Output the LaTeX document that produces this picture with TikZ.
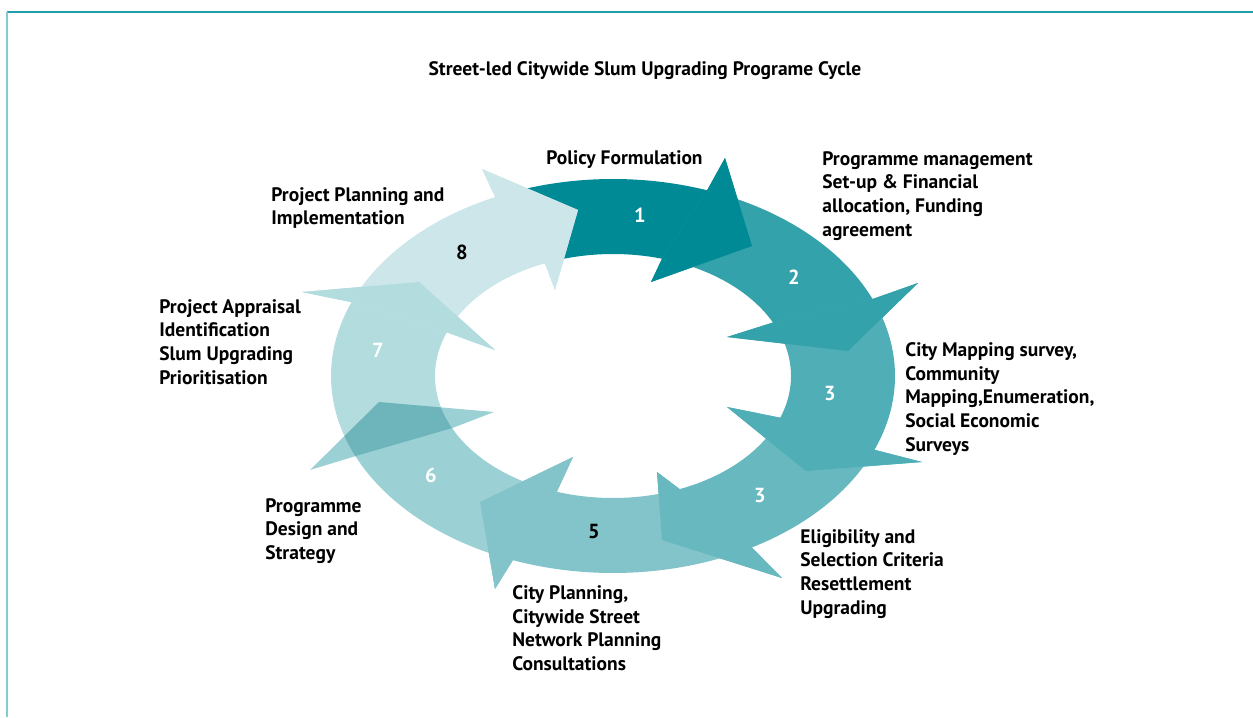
\documentclass[tikz,border=0pt]{standalone}
\usepackage{fontspec}
\setmainfont{PT Sans}
\usepackage{xcolor}
\usetikzlibrary{calc}

\definecolor{cyc1}{HTML}{008A96}
\definecolor{cyc2}{HTML}{34A2AB}
\definecolor{cyc3}{HTML}{4FAEB6}
\definecolor{cyc4}{HTML}{67B8BF}
\definecolor{cyc5}{HTML}{82C4CA}
\definecolor{cyc6}{HTML}{9BD0D5}
\definecolor{cyc7}{HTML}{B3DCDF}
\definecolor{cyc8}{HTML}{CCE6E9}
\definecolor{cycover}{HTML}{6DB4BB}
\definecolor{frametop}{HTML}{22A0AA}
\definecolor{frameleft}{HTML}{7FCCD3}

\begin{document}
\begin{tikzpicture}[
  x=0.02cm, y=-0.02cm,
  outer/.style={x radius=282, y radius=197},
  inner/.style={x radius=178, y radius=122},
  lbl/.style={anchor=north west, align=left, inner sep=0pt, font=\bfseries\fontsize{11.1}{13.5}\selectfont},
  num/.style={inner sep=0pt, text=white, font=\bfseries\fontsize{11.6}{13}\selectfont}
]
  \useasboundingbox (0,0) rectangle (1253,717);
  \draw[frametop, line width=0.7pt] (7,12) -- (1253,12);
  \draw[frameleft, line width=0.8pt] (7,12) -- (7,717);
  \coordinate (c) at (613,376);

  % Arrows
  \fill[cyc1] ($(c)+(-114.7:282 and 197)$) arc[outer, start angle=-114.7, end angle=-70.5] -- (725,158) -- (752,246) -- (651,282) -- ($(c)+(-74:178 and 122)$) arc[inner, start angle=-74, end angle=-112.5] -- cycle;
  \fill[cyc2] ($(c)+(-70.5:282 and 197)$) arc[outer, start angle=-70.5, end angle=-23] -- (918,283) -- (848,351) -- (727,337) -- ($(c)+(-26:178 and 122)$) arc[inner, start angle=-26, end angle=-74] -- cycle;
  \fill[cyc3] ($(c)+(-23:282 and 197)$) arc[outer, start angle=-23, end angle=22] -- (922,462) -- (806,471) -- (727,407) -- ($(c)+(20:178 and 122)$) arc[inner, start angle=20, end angle=-26] -- cycle;
  \fill[cyc4] ($(c)+(22:282 and 197)$) arc[outer, start angle=22, end angle=60.5] -- (782,578) -- (662,540) -- (657,472) -- ($(c)+(68:178 and 122)$) arc[inner, start angle=68, end angle=20] -- cycle;
  \fill[cyc5] ($(c)+(60.5:282 and 197)$) arc[outer, start angle=60.5, end angle=110.8] -- (495,589) -- (480,502) -- (573,457) -- ($(c)+(108.4:178 and 122)$) arc[inner, start angle=108.4, end angle=68] -- cycle;
  \fill[cyc6] ($(c)+(110.8:282 and 197)$) arc[outer, start angle=110.8, end angle=156] -- (310,470) -- (379,402) -- (494,412) -- ($(c)+(154.7:178 and 122)$) arc[inner, start angle=154.7, end angle=108.4] -- cycle;
  \fill[cyc7] ($(c)+(156:282 and 197)$) arc[outer, start angle=156, end angle=202] -- (302,292) -- (419,282) -- (495,350) -- ($(c)+(201:178 and 122)$) arc[inner, start angle=201, end angle=154.7] -- cycle;
  \fill[cyc8] ($(c)+(202:282 and 197)$) arc[outer, start angle=202, end angle=245.3] -- (482,169) -- (578,210) -- (555,290) -- ($(c)+(247.5:178 and 122)$) arc[inner, start angle=247.5, end angle=201] -- cycle;

  % Heads on top of the next band
  \fill[cyc1] ($(c)+(-70.5:282 and 197)$) -- (725,158) -- (752,246) -- (651,282) -- ($(c)+(-74:178 and 122)$) -- cycle;
  \fill[cyc2] ($(c)+(-23:282 and 197)$) -- (918,283) -- (848,351) -- (727,337) -- ($(c)+(-26:178 and 122)$) -- cycle;
  \fill[cyc3] ($(c)+(22:282 and 197)$) -- (922,462) -- (806,471) -- (727,407) -- ($(c)+(20:178 and 122)$) -- cycle;
  \fill[cyc4] ($(c)+(60.5:282 and 197)$) -- (782,578) -- (662,540) -- (657,472) -- ($(c)+(68:178 and 122)$) -- cycle;
  \fill[cyc5] ($(c)+(110.8:282 and 197)$) -- (495,589) -- (480,502) -- (573,457) -- ($(c)+(108.4:178 and 122)$) -- cycle;
  \begin{scope}
    \clip ($(c)+(156:282 and 197)$) -- (310,470) -- (379,402) -- (494,412) -- ($(c)+(154.7:178 and 122)$) -- cycle;
    \fill[cycover, even odd rule] (c) ellipse[outer] (c) ellipse[inner];
  \end{scope}
  \fill[cyc7] ($(c)+(202:282 and 197)$) -- (302,292) -- (419,282) -- (495,350) -- ($(c)+(201:178 and 122)$) -- cycle;
  \fill[cyc8] ($(c)+(245.3:282 and 197)$) -- (482,169) -- (578,210) -- (555,290) -- ($(c)+(247.5:178 and 122)$) -- cycle;

  % Numbers
  \node[num] (num1) at (640,215) {1};
  \node[num] (num2) at (794,277) {2};
  \node[num] (num3) at (830,394) {3};
  \node[num] (num4) at (760,495) {3};
  \node[num, text=black] (num5) at (594,531) {5};
  \node[num] (num6) at (431,475) {6};
  \node[num] (num7) at (378,350) {7};
  \node[num, text=black] (num8) at (462,252) {8};

  % Labels
  \node[font=\bfseries\fontsize{11.1}{13.5}\selectfont] (title) at (645,71) {Street-led Citywide Slum Upgrading Programe Cycle};
  \node[lbl] (policy) at (546,150) {Policy Formulation};
  \node[lbl] (setup) at (822,151) {Programme management\\Set-up \& Financial\\allocation, Funding\\agreement};
  \node[lbl] (mapping) at (905,342) {City Mapping survey,\\Community\\Mapping,Enumeration,\\Social Economic\\Surveys};
  \node[lbl] (criteria) at (800,529) {Eligibility and\\Selection Criteria\\Resettlement\\Upgrading};
  \node[lbl] (planning) at (512,585) {City Planning,\\Citywide Street\\Network Planning\\Consultations};
  \node[lbl] (design) at (265,498) {Programme\\Design and\\Strategy};
  \node[lbl] (appraisal) at (159,299) {Project Appraisal\\Identification\\Slum Upgrading\\Prioritisation};
  \node[lbl] (implement) at (271,187) {Project Planning and\\Implementation};
\end{tikzpicture}
\end{document}
